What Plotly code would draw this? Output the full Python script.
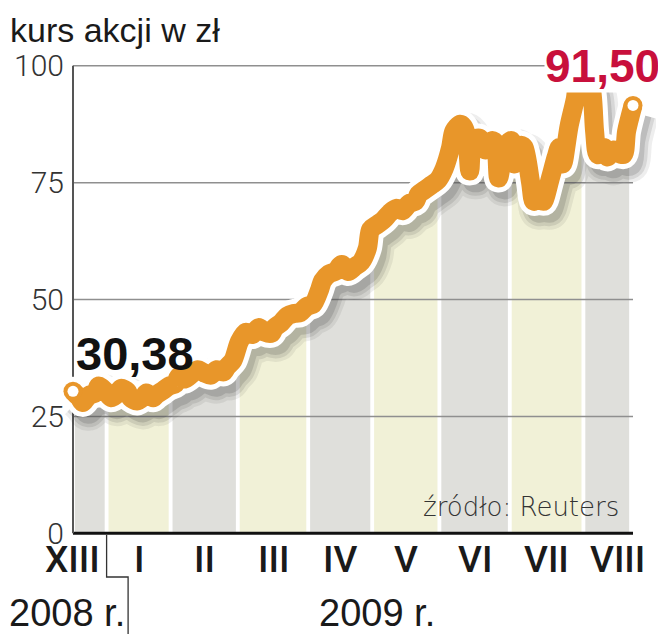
import plotly.graph_objects as go

# ---------------- data ----------------
title_text = "kurs akcji w zł"
source_text = "źródło: Reuters"
year_labels = ["2008 r.", "2009 r."]
month_labels = ["XIII", "I", "II", "III", "IV", "V", "VI", "VII", "VIII"]
# first trading session (index) of every month shown
month_first_session = [0, 11, 31, 52, 74, 94, 115, 137, 160]

sessions = [0, 2, 3, 5, 7, 8, 10, 12, 14, 15, 17, 18, 20, 22, 23, 25, 26, 28, 30,
            32, 33, 35, 37, 39, 41, 43, 45, 47, 48, 50,
            52, 54, 56, 58, 60, 62, 63, 65, 67, 69, 71, 73,
            75, 77, 78, 80, 82, 84, 86, 88, 90, 92, 93,
            95, 97, 99, 101, 103, 105, 107, 108, 110, 112, 114,
            116, 118, 119, 121, 122, 123, 124, 125, 127, 129, 131, 132, 133, 135,
            137, 138, 140, 141, 143, 144, 146, 147, 149, 151, 152, 153, 155, 157, 158,
            160, 162, 163, 164, 166, 167, 169, 170, 172, 173, 175]
prices = [30.38, 29.0, 28.0, 29.5, 30.0, 31.5, 30.5, 29.0, 30.0, 31.0, 30.3, 29.0, 28.3, 29.2, 30.0, 29.0, 29.6, 30.5, 31.5,
          32.0, 33.5, 33.0, 34.0, 35.0, 34.3, 33.8, 35.0, 34.5, 35.5, 37.0,
          41.0, 43.0, 42.5, 44.0, 43.0, 42.8, 44.0, 45.0, 46.5, 47.0, 47.2, 48.5,
          49.0, 52.0, 54.0, 55.5, 56.0, 57.5, 56.0, 57.0, 58.0, 61.0, 65.0,
          66.0, 67.0, 68.5, 69.5, 69.0, 70.5, 71.0, 72.5, 73.5, 74.5, 75.5,
          78.0, 82.5, 86.0, 87.5, 87.0, 85.0, 77.5, 84.0, 84.5, 82.0, 84.0, 83.5, 76.0, 82.5,
          84.0, 79.0, 83.0, 82.5, 75.0, 71.0, 73.0, 71.0, 75.5, 80.5, 82.5, 79.0, 87.0, 93.0, 97.5,
          98.5, 95.0, 86.0, 81.0, 82.5, 80.5, 82.0, 81.5, 81.0, 86.0, 91.5]
first_label = "30,38"
last_label = "91,50"
y_ticks = [0, 25, 50, 75, 100]

# ---------------- layout geometry ----------------
# the page body adds an 8 px margin, so the figure is made 8 px smaller
BODY = 8
W, H = 666 - BODY, 640 - BODY
ML, MR, MT, MB = 40 - BODY, 10, 33 - BODY, 102
PX_PER_SESSION = 3.2
AXIS_PX = 73          # screen x of the value axis
plot_w = W - ML - MR
plot_h = H - MT - MB
xmin = sessions[0] - (AXIS_PX - BODY - ML) / PX_PER_SESSION
xmax = xmin + plot_w / PX_PER_SESSION
ymin, ymax = -1, 107


def paper_x(px):      # screen px -> paper
    return (px - BODY - ML) / plot_w


def paper_y(py):
    return (H - MB - (py - BODY)) / plot_h


def data_to_paper_x(x):
    return (x - xmin) / (xmax - xmin)


# month columns
bounds = [m - 0.5 for m in month_first_session[1:]]
lefts = [sessions[0]] + bounds
rights = bounds + [sessions[-1]]
gap = 0.6
col_l = [l + gap for l in lefts]
col_r = [r - gap for r in rights[:-1]] + [rights[-1] - 2 * gap]
col_c = [(a + b) / 2 for a, b in zip(col_l, col_r)]
col_w = [b - a for a, b in zip(col_l, col_r)]
col_colors = ["#dfdfdb" if i % 2 == 0 else "#f1f1d7" for i in range(len(month_labels))]

full_lengths = [rights[i] - lefts[i] for i in range(1, len(month_labels) - 1)]
half_month = sum(full_lengths) / len(full_lengths) / 2
label_pos = [(lefts[i] + rights[i]) / 2 for i in range(len(month_labels))]
label_pos[0] = bounds[0] - half_month
label_pos[-1] = bounds[-1] + half_month

ORANGE = "#e8962a"
RED = "#c8103c"
SM = 0.8

fig = go.Figure()

# columns
fig.add_trace(go.Bar(x=col_c, y=[ymax for _ in col_c], width=col_w, base=0,
                     marker=dict(color=col_colors, line=dict(width=0)),
                     hoverinfo="skip"))

# white cover above the line
fig.add_trace(go.Scatter(x=[sessions[0], sessions[-1]], y=[ymax + 5, ymax + 5],
                         mode="lines", line=dict(width=0, color="white"), hoverinfo="skip"))
fig.add_trace(go.Scatter(x=sessions, y=prices, mode="lines", fill="tonexty",
                         fillcolor="white", line=dict(width=0, color="white", shape="spline", smoothing=SM),
                         hoverinfo="skip"))

# gridlines
for v in y_ticks[1:]:
    fig.add_trace(go.Scatter(x=[sessions[0], sessions[-1]], y=[v, v], mode="lines",
                             line=dict(color="#8f8f8f", width=1.5), hoverinfo="skip"))

# axis lines
fig.add_trace(go.Scatter(x=[sessions[0], sessions[-1]], y=[0, 0], mode="lines",
                         line=dict(color="#111111", width=3), hoverinfo="skip"))
fig.add_trace(go.Scatter(x=[sessions[0], sessions[0]], y=[0, y_ticks[-1]], mode="lines",
                         line=dict(color="#555555", width=2), hoverinfo="skip"))

# shadow
sh_x = [s + 1.8 for s in sessions]
sh_y = [p - 1.8 for p in prices]
for w, a in [(40, 0.08), (33, 0.11), (26, 0.15)]:
    fig.add_trace(go.Scatter(x=sh_x, y=sh_y, mode="lines",
                             line=dict(color=f"rgba(40,40,40,{a})", width=w, shape="spline", smoothing=SM),
                             hoverinfo="skip"))

ends_x = [sessions[0], sessions[-1]]
ends_y = [prices[0], prices[-1]]

# white outline
fig.add_trace(go.Scatter(x=sessions, y=prices, mode="lines",
                         line=dict(color="white", width=29, shape="spline", smoothing=SM),
                         hoverinfo="skip"))
fig.add_trace(go.Scatter(x=ends_x, y=ends_y, mode="markers", cliponaxis=False,
                         marker=dict(color="white", size=29, line=dict(width=0)), hoverinfo="skip"))
# orange line
fig.add_trace(go.Scatter(x=sessions, y=prices, mode="lines",
                         line=dict(color=ORANGE, width=19, shape="spline", smoothing=SM),
                         hoverinfo="skip"))
fig.add_trace(go.Scatter(x=ends_x, y=ends_y, mode="markers", cliponaxis=False,
                         marker=dict(color=ORANGE, size=19, line=dict(width=0)), hoverinfo="skip"))
fig.add_trace(go.Scatter(x=ends_x, y=ends_y, mode="markers", cliponaxis=False,
                         marker=dict(color="white", size=11, line=dict(width=0)), hoverinfo="skip"))

month_font = dict(family="Roboto", size=37, color="#1a1a1a", weight=500)
year_font = dict(family="Liberation Sans", size=38, color="#1a1a1a")
annotations = [
    dict(text=title_text, xref="paper", yref="paper", x=paper_x(9), y=paper_y(30),
         xanchor="left", yanchor="middle", showarrow=False, borderpad=0,
         font=dict(family="Liberation Sans", size=34, color="#1a1a1a")),
    dict(text=first_label, xref="x", yref="y", x=sessions[0], y=prices[0],
         xanchor="left", yanchor="middle", xshift=1, yshift=38, showarrow=False,
         font=dict(family="Liberation Sans", size=47, color="#111111", weight="bold")),
    dict(text=last_label, xref="x", yref="y", x=sessions[-1], y=prices[-1],
         xanchor="right", yanchor="middle", xshift=28, yshift=39, showarrow=False,
         bgcolor="white", borderpad=0,
         font=dict(family="Liberation Sans", size=46, color=RED, weight="bold")),
    dict(text=source_text, xref="paper", yref="paper", x=paper_x(621), y=paper_y(507),
         xanchor="right", yanchor="middle", showarrow=False,
         font=dict(family="DejaVu Sans", size=26, color="#333333", weight=200)),
    dict(text=year_labels[0], xref="paper", yref="paper", x=paper_x(126), y=paper_y(613),
         xanchor="right", yanchor="middle", showarrow=False, borderpad=0, font=year_font),
    dict(text=year_labels[1], xref="paper", yref="paper", x=paper_x(377), y=paper_y(613),
         xanchor="center", yanchor="middle", showarrow=False, borderpad=0, font=year_font),
]
for pos, lab in zip(label_pos, month_labels):
    annotations.append(dict(text=lab, xref="x", yref="paper", x=pos, y=paper_y(559),
                            xanchor="center", yanchor="middle", showarrow=False, borderpad=0,
                            font=month_font))

bx = data_to_paper_x(bounds[0])
bx_screen = BODY + ML + bx * plot_w
shapes = [
    dict(type="path", xref="paper", yref="paper",
         path=(f"M {bx},{paper_y(535)} L {bx},{paper_y(577)} "
               f"L {paper_x(bx_screen + 21.5)},{paper_y(577)} L {paper_x(bx_screen + 21.5)},{paper_y(634)}"),
         line=dict(color="#333333", width=1.3)),
]

fig.update_layout(
    width=W, height=H,
    margin=dict(l=ML, r=MR, t=MT, b=MB, autoexpand=False),
    plot_bgcolor="white", paper_bgcolor="white",
    showlegend=False, barmode="overlay",
    xaxis=dict(range=[xmin, xmax], showgrid=False, zeroline=False, showline=False,
               showticklabels=False, ticks="", automargin=False),
    yaxis=dict(range=[ymin, ymax], anchor="free", position=data_to_paper_x(sessions[0]),
               showgrid=False, zeroline=False, showline=False, automargin=False,
               tickmode="array", tickvals=y_ticks, ticks="", ticklabelstandoff=9,
               tickfont=dict(family="Roboto", size=30, color="#333333", weight=300)),
    annotations=annotations,
    shapes=shapes,
)

fig.write_html("out.html")
